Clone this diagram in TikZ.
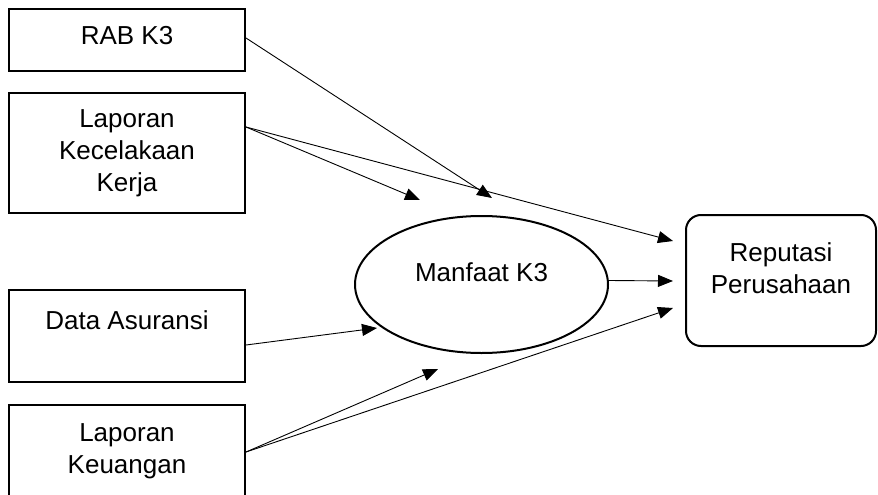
\documentclass[tikz,border=0pt]{standalone}
\usepackage{fontspec}
\setmainfont{Liberation Sans}
\usetikzlibrary{arrows.meta,shapes.geometric}
\begin{document}
\begin{tikzpicture}[x=1pt,y=-1pt,
  box/.style={draw,line width=2pt,rectangle,minimum width=236pt,inner sep=0pt},
  lbl/.style={align=center,inner sep=0pt,font=\fontsize{26}{32}\selectfont},
  arr/.style={line width=0.9pt,-{Triangle[length=15pt,width=12pt]}}]
\useasboundingbox (0,0) rectangle (878,495);
\clip (0,0) rectangle (878,495);
% boxes
\node[box,minimum height=62pt] (rab) at (127,40) {};
\node[box,minimum height=120pt] (lk) at (127,153) {};
\node[box,minimum height=92pt] (da) at (127,336) {};
\node[box,minimum height=120pt] (lku) at (127,465) {};
\node[draw,line width=2pt,ellipse,minimum width=253pt,minimum height=137pt,inner sep=0pt] (man) at (481.5,284.5) {};
\node[draw,line width=2pt,rectangle,rounded corners=15pt,minimum width=190pt,minimum height=131pt,inner sep=0pt] (rep) at (781,280.5) {};
% texts
\node[lbl] (trab) at (127,36) {RAB K3};
\node[lbl] (tlk) at (127,153) {Laporan\\Kecelakaan\\Kerja};
\node[lbl] (tda) at (127,320) {Data Asuransi};
\node[lbl] (tlku) at (127,451) {Laporan\\Keuangan};
\node[lbl] (tman) at (481.5,272) {Manfaat K3};
\node[lbl] (trep) at (781,268) {Reputasi\\Perusahaan};
% arrow tips
\coordinate (t1) at (492,198);
\coordinate (t2) at (420,200);
\coordinate (t3) at (673,241);
\coordinate (t4) at (673,281);
\coordinate (t5) at (377,328);
\coordinate (t6) at (438,369);
\coordinate (t7) at (673,308);
% connectors
\draw[arr] ([yshift=2pt]rab.east) -- (t1);
\draw[arr] ([yshift=26pt]lk.east) -- (t2);
\draw[arr] ([yshift=26pt]lk.east) -- (t3);
\draw[arr] ([yshift=4pt]man.east) -- (t4);
\draw[arr] ([yshift=-9pt]da.east) -- (t5);
\draw[arr] ([yshift=13pt]lku.east) -- (t6);
\draw[arr] ([yshift=13pt]lku.east) -- (t7);
\end{tikzpicture}
\end{document}
